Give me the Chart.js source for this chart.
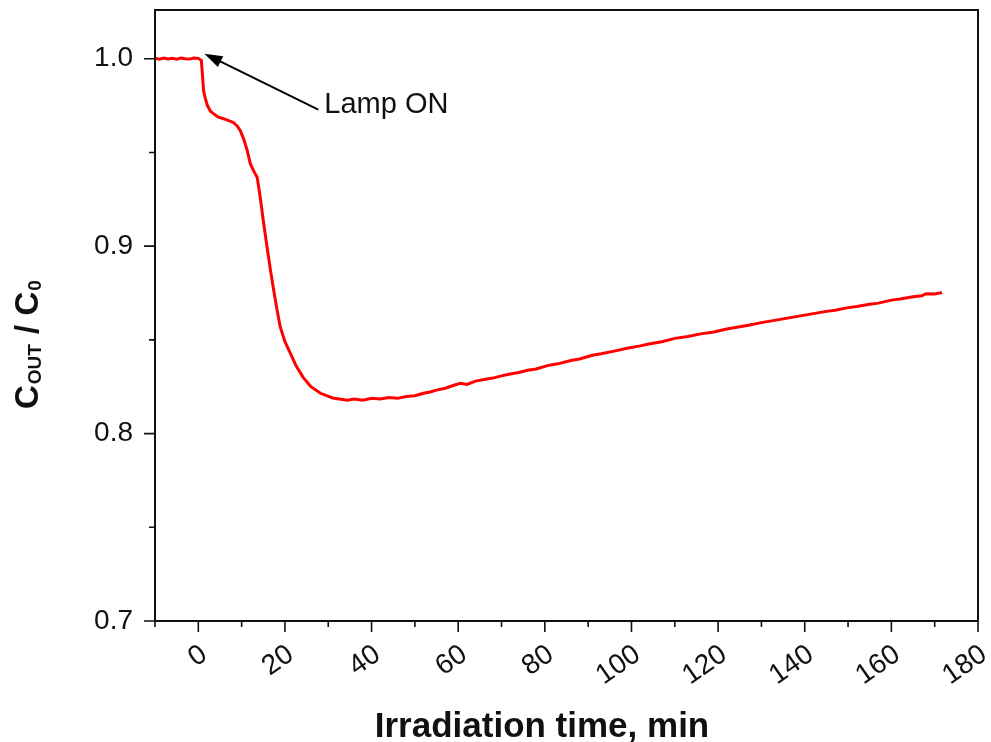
<!DOCTYPE html>
<html>
<head>
<meta charset="utf-8">
<script src="https://cdn.jsdelivr.net/npm/chart.js@4.4.1/dist/chart.umd.min.js"></script>
<style>
  html, body { margin: 0; padding: 0; background: #fff; }
</style>
</head>
<body>
<canvas id="grafico" width="991" height="742"></canvas>
<script>
// Datos
const tiempo = [-10, -9, -8, -7, -6, -5, -4, -3, -2, -1, 0, 0.7, 1.0, 1.2, 1.6, 2.1, 2.8, 3.5, 4.5, 5.8, 7, 8.1, 9, 9.7,
  10.5, 11.3, 12, 12.8, 13.6, 14.3, 15, 15.9, 16.6, 17.3, 18.1, 18.9, 20, 21.2, 22.6, 24.2, 26, 28.2, 31, 34.4,
  36, 38, 40, 42, 44, 46, 48, 50, 52, 53.5, 55, 57, 59, 60.5, 62, 64, 66, 68, 70, 72, 74, 76, 78, 81, 83, 86,
  88, 91, 93, 96, 99, 102, 104, 107, 110, 113, 116, 119, 122, 125, 127, 130, 132, 135, 137, 139, 142,
  145, 147, 150, 152, 155, 157, 160, 162, 165, 167, 168, 170, 171.7];
const razon = [1.0003, 0.9998, 1.0004, 0.9999, 1.0003, 0.9998, 1.0004, 1.0000, 0.9998, 1.0004, 1.0002, 0.999, 0.990, 0.983,
  0.979, 0.975, 0.972, 0.9707, 0.969, 0.968, 0.967, 0.966, 0.964, 0.9616,
  0.957, 0.951, 0.944, 0.940, 0.9366, 0.926, 0.9137, 0.899, 0.888, 0.878, 0.867, 0.857, 0.849, 0.843, 0.836,
  0.830, 0.825, 0.8215, 0.819, 0.8178,
  0.8185, 0.8178, 0.8188, 0.8184, 0.8192, 0.8188, 0.8198, 0.8202, 0.8215, 0.8222, 0.8232, 0.8242, 0.8258, 0.8268,
  0.8262, 0.828, 0.8288, 0.8296, 0.8308, 0.8318, 0.8326, 0.8338, 0.8345, 0.8365, 0.8372, 0.839,
  0.8398, 0.8418, 0.8426, 0.844, 0.8455, 0.8468, 0.8478, 0.849, 0.8508, 0.8518, 0.8532, 0.8542, 0.8558, 0.857,
  0.8578, 0.8592, 0.86, 0.8612, 0.862, 0.8628, 0.864,
  0.8652, 0.8658, 0.8672, 0.8678, 0.869, 0.8696, 0.8712, 0.8718, 0.873, 0.8735, 0.8746, 0.8745, 0.8752];

const xMayores = [0, 20, 40, 60, 80, 100, 120, 140, 160, 180];
const xMenores = [-10, 10, 30, 50, 70, 90, 110, 130, 150, 170];
const yMayores = [0.7, 0.8, 0.9, 1.0];
const yMenores = [0.75, 0.85, 0.95];

// Anotacion "Lamp ON" (en coordenadas de datos)
const flechaPunta = { x: 1.4, y: 1.0027 };
const flechaCola = { x: 27.7, y: 0.9728 };
const textoLampara = { x: 29.1, y: 0.9712, texto: 'Lamp ON' };

const fuente = '"Liberation Sans", Arial, sans-serif';

const puntos = tiempo.map((t, i) => ({ x: t, y: razon[i] }));

const sinRelleno = s => { s.paddingTop = 0; s.paddingBottom = 0; s.paddingLeft = 0; s.paddingRight = 0; };

const marcos = {
  id: 'marcos',
  afterDraw(chart) {
    const ctx = chart.ctx;
    const a = chart.chartArea;
    const sx = chart.scales.x, sy = chart.scales.y;
    ctx.save();
    ctx.strokeStyle = '#111';
    ctx.lineWidth = 2;
    ctx.strokeRect(a.left, a.top, a.right - a.left, a.bottom - a.top);

    // marcas de los ejes
    ctx.lineWidth = 1.6;
    ctx.beginPath();
    xMayores.forEach(v => { const p = sx.getPixelForValue(v); ctx.moveTo(p, a.bottom); ctx.lineTo(p, a.bottom + 11); });
    xMenores.forEach(v => { const p = sx.getPixelForValue(v); ctx.moveTo(p, a.bottom); ctx.lineTo(p, a.bottom + 6); });
    yMayores.forEach(v => { const p = sy.getPixelForValue(v); ctx.moveTo(a.left, p); ctx.lineTo(a.left - 11, p); });
    yMenores.forEach(v => { const p = sy.getPixelForValue(v); ctx.moveTo(a.left, p); ctx.lineTo(a.left - 6, p); });
    ctx.stroke();

    // flecha
    const px = sx.getPixelForValue(flechaPunta.x), py = sy.getPixelForValue(flechaPunta.y);
    const cx = sx.getPixelForValue(flechaCola.x), cy = sy.getPixelForValue(flechaCola.y);
    const ang = Math.atan2(cy - py, cx - px);
    ctx.strokeStyle = '#000';
    ctx.lineWidth = 2;
    ctx.beginPath();
    ctx.moveTo(cx, cy);
    ctx.lineTo(px + Math.cos(ang) * 12, py + Math.sin(ang) * 12);
    ctx.stroke();
    ctx.fillStyle = '#000';
    ctx.beginPath();
    ctx.moveTo(px, py);
    ctx.lineTo(px + Math.cos(ang) * 18 - Math.sin(ang) * 6, py + Math.sin(ang) * 18 + Math.cos(ang) * 6);
    ctx.lineTo(px + Math.cos(ang) * 18 + Math.sin(ang) * 6, py + Math.sin(ang) * 18 - Math.cos(ang) * 6);
    ctx.closePath();
    ctx.fill();

    ctx.fillStyle = '#111';
    ctx.font = '29px ' + fuente;
    ctx.textBaseline = 'alphabetic';
    ctx.textAlign = 'left';
    ctx.fillText(textoLampara.texto, sx.getPixelForValue(textoLampara.x), sy.getPixelForValue(textoLampara.y));

    // titulo eje x
    ctx.font = 'bold 35px ' + fuente;
    ctx.textAlign = 'center';
    ctx.fillText('Irradiation time, min', 542, 737);

    // titulo eje y con subindices
    ctx.translate(38, 409);
    ctx.rotate(-Math.PI / 2);
    ctx.textAlign = 'left';
    const partes = [
      { t: 'C', f: 'bold 33px ', dy: 0 },
      { t: 'OUT', f: 'bold 19px ', dy: 3 },
      { t: ' / C', f: 'bold 33px ', dy: 0 },
      { t: '0', f: 'bold 19px ', dy: 3 }
    ];
    let xx = 0;
    partes.forEach(p => {
      ctx.font = p.f + fuente;
      ctx.fillText(p.t, xx, p.dy);
      xx += ctx.measureText(p.t).width + 1;
    });
    ctx.restore();
  }
};

new Chart(document.getElementById('grafico'), {
  type: 'line',
  data: {
    datasets: [{
      data: puntos,
      borderColor: '#f00',
      borderWidth: 3,
      pointRadius: 0,
      tension: 0,
      fill: false
    }]
  },
  options: {
    responsive: false,
    animation: false,
    layout: { padding: { top: 10, right: 13, left: 0, bottom: 0 } },
    plugins: { legend: { display: false }, tooltip: { enabled: false } },
    scales: {
      x: {
        type: 'linear',
        min: -10,
        max: 180,
        afterBuildTicks: s => { s.ticks = xMayores.map(v => ({ value: v })); },
        afterFit: s => { s.height = 121; sinRelleno(s); },
        grid: { display: false, drawTicks: false },
        border: { display: false },
        ticks: {
          autoSkip: false,
          minRotation: 35,
          maxRotation: 35,
          padding: 17,
          labelOffset: 6,
          color: '#111',
          font: { size: 28, family: fuente }
        }
      },
      y: {
        min: 0.7,
        max: 1.026,
        afterBuildTicks: s => { s.ticks = yMayores.map(v => ({ value: v })); },
        afterFit: s => { s.width = 155; sinRelleno(s); },
        grid: { display: false, drawTicks: false },
        border: { display: false },
        ticks: {
          padding: 22,
          color: '#111',
          font: { size: 28, family: fuente },
          callback: v => v.toFixed(1)
        }
      }
    }
  },
  plugins: [marcos]
});
</script>
</body>
</html>
